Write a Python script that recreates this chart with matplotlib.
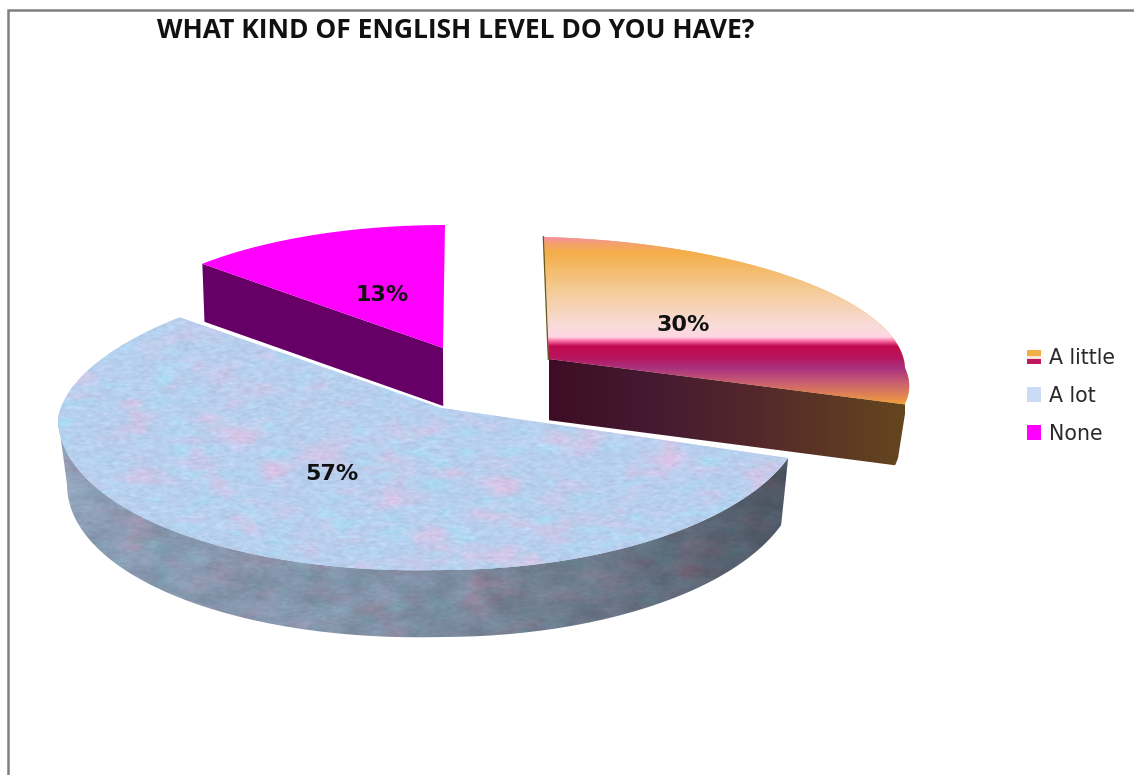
import numpy as np
import matplotlib
matplotlib.use('Agg')
import matplotlib.pyplot as plt
from matplotlib.colors import to_rgb
from matplotlib.legend_handler import HandlerPatch
from matplotlib.patches import Patch, Rectangle
from matplotlib.path import Path
from matplotlib.transforms import Affine2D, Transform

title = 'WHAT KIND OF ENGLISH LEVEL DO YOU HAVE?'
categories = ['A little', 'A lot', 'None']
values = [30, 57, 13]
legend_colors = ['#F4AE48', '#CBDBF5', '#FF00FF']


class SliceView(Transform):
    """Lays one flat pie slice onto the tilted plate, in figure pixels."""
    input_dims = 2
    output_dims = 2

    def __init__(self, apex, left, right, back, front, skew_back=0, skew_front=0, sag_left=0, sag_right=0):
        super().__init__()
        self.apex = apex
        self.left, self.right = left, right
        self.back, self.front = back, front
        self.skew_back, self.skew_front = skew_back, skew_front
        self.sag_left, self.sag_right = sag_left, sag_right

    def transform_non_affine(self, xy):
        xy = np.asarray(xy, dtype=float)
        x, y = xy[:, 0], xy[:, 1]
        wide = np.where(x < 0, self.left, self.right)
        tall = np.where(y > 0, self.back, self.front)
        skew = np.where(y > 0, self.skew_back, self.skew_front)
        # sag drops the far sides of the plate a little
        sag = np.where(x < 0, self.sag_left, self.sag_right) * np.abs(x)
        return np.column_stack([self.apex[0] + wide * x + skew * y,
                                self.apex[1] - tall * y + sag])

    def transform_path_non_affine(self, path):
        # flatten at a large scale, the curves are only one unit across
        flat = path.to_polygons(Affine2D().scale(2000))[0] / 2000
        return Path(self.transform_non_affine(flat))


def rim(t0, t1, n=120):
    t = np.radians(np.linspace(t0, t1, n))
    return np.column_stack([np.cos(t), np.sin(t)])


def lowered(pts, depth, squeeze=0.978, vanish=470):
    return np.column_stack([vanish + (pts[:, 0] - vanish) * squeeze, pts[:, 1] + depth])


def ramp(stops, n=400):
    pos = np.array([s[0] for s in stops], dtype=float)
    rgb = np.array([to_rgb(s[1]) for s in stops])
    t = np.linspace(pos[0], pos[-1], n)
    return np.column_stack([np.interp(t, pos, rgb[:, i]) for i in range(3)])


def mottled(h, w, fy, fx, seed):
    # low-passed noise, used only as surface grain
    noise = np.random.default_rng(seed).standard_normal((h, w))
    ky = np.fft.fftfreq(h)[:, None]
    kx = np.fft.rfftfreq(w)[None, :]
    soft = np.fft.irfft2(np.fft.rfft2(noise) * np.exp(-(ky / fy) ** 2 - (kx / fx) ** 2), s=(h, w))
    return (soft - soft.mean()) / soft.std()


def paint(ax, img, box, clip, zorder):
    x0, x1, y0, y1 = box
    im = ax.imshow(img, extent=(x0, x1, y1, y0), aspect='auto', zorder=zorder, interpolation='bilinear')
    if isinstance(clip, np.ndarray):
        im.set_clip_path(Path(clip), ax.transData)
    else:
        im.set_clip_path(clip)
    return im


def plate_texture(h, w):
    base = np.array(to_rgb('#B9CFEE'))
    pink = np.array(to_rgb('#D8C4E6'))
    cyan = np.array(to_rgb('#ADD9F2'))
    coarse = mottled(h, w, 0.035, 0.02, 3)
    mid = mottled(h, w, 0.09, 0.04, 4)
    fine = mottled(h, w, 0.3, 0.12, 5)
    tex = base + np.clip(coarse * 0.3 + mid * 0.14, 0, 1)[..., None] * (pink - base) \
        + np.clip(mottled(h, w, 0.07, 0.03, 6) * 0.4, 0, 1)[..., None] * (cyan - base)
    return np.clip(tex + fine[..., None] * 0.014, 0, 1)


views = [
    SliceView((549, 359), 356, 356, 122, 119, skew_back=-5, skew_front=-55, sag_right=9),
    SliceView((441, 408), 383, 365, 143, 162, skew_back=26, sag_left=10),
    SliceView((443, 348), 332, 332, 123, 123, skew_back=2),
]
depths = [61, 67, 58]

fig = plt.figure(figsize=(11.34, 7.75), dpi=100, facecolor='white')
ax = fig.add_axes([0, 0, 1, 1])

wedges, _, pcts = ax.pie(values, colors=legend_colors, startangle=90, counterclock=False,
                         autopct='%.0f%%', pctdistance=0.47,
                         wedgeprops={'linewidth': 0},
                         textprops={'fontsize': 16, 'fontweight': 'bold', 'color': '#111111'})
ax.set(xlim=(0, 1134), ylim=(775, 0), aspect='auto')
ax.set_axis_off()

for wedge, pct, view in zip(wedges, pcts, views):
    wedge.set_transform(view + ax.transData)
    pct.set_transform(view + ax.transData)
    pct.set_zorder(6)
    pct.set_clip_on(False)
little, lot, none = wedges
little_view, lot_view, none_view = views

# frame along the top and left only
ax.plot([8, 8, 1134], [775, 10, 10], color='#808080', lw=1.8, solid_joinstyle='miter', zorder=1)

# "A little": banded top, dark brown wall
outline = np.vstack([rim(-14, little.theta1), [[0, 0]]])
top = little_view.transform(outline)
wall = np.vstack([top, lowered(top, depths[0])[::-1]])
wall_band = ramp([(0, '#3E0D25'), (0.3, '#451A32'), (0.6, '#55292A'), (1, '#64461E')])[None, :, :]
paint(ax, wall_band, (549, 905, 340, 480), wall, 2)
edge = little_view.transform(np.array([[0, 1], [0, 0]]))
ax.plot(edge[:, 0] - 0.5, edge[:, 1], color='#6A5A20', lw=1.2, zorder=2)
band = ramp([(237, '#F78FA8'), (243, '#F4A070'), (252, '#F4AE48'), (290, '#F5CB96'),
             (325, '#F8DCD8'), (337, '#FFD6E4'), (340, '#FF86B6'), (346, '#C20A50'),
             (358, '#B8155F'), (368, '#A8327F'), (382, '#C85C72'), (405, '#F2A23C')])[:, None, :]
paint(ax, band, (530, 925, 237, 405), little, 3)

# "None": flat magenta with a plum wall
outline = np.vstack([rim(none.theta2, none.theta2, 2)[:1], [[0, 0]]])
top = none_view.transform(outline)
ax.fill(*np.vstack([top, lowered(top, depths[2], squeeze=0.992)[::-1]]).T, color='#660066', lw=0, zorder=2)
none.set_zorder(3)

# "A lot": mottled plate and shaded rim wall
top = lot_view.transform(rim(lot.theta2, -180))
wall = np.vstack([top, lowered(top, depths[1])[::-1]])
h, w = 340, 760
tex = plate_texture(h, w)
shade = np.interp(np.arange(w), [0, 100, 380, 550, 735], [0.78, 0.75, 0.68, 0.58, 0.42])
paint(ax, tex[::-1] * shade[None, :, None] * (1 + 0.03 * mottled(h, w, 0.05, 0.03, 8))[..., None],
      (50, 50 + w, 310, 310 + h), wall, 2)
paint(ax, tex, (50, 50 + w, 300, 300 + h), lot, 3)

# small nudges so the labels sit clear of the band edges
x, y = pcts[0].get_position()
pcts[0].set_position((x, y + 0.03))
x, y = pcts[1].get_position()
pcts[1].set_position((x - 0.045, y + 0.012))

ax.text(157, 31, title, family='Open Sans', fontweight='bold', fontsize=19,
        color='#111111', ha='left', va='center')


class BandedHandler(HandlerPatch):
    def create_artists(self, legend, orig_handle, xd, yd, width, height, fontsize, trans):
        rows = [(0.58, 0.42, '#F4AE48'), (0.36, 0.22, '#FBE6DC'), (0, 0.36, '#C0185E')]
        return [Rectangle((-xd, -yd + height * y0), width, height * dy, facecolor=c, lw=0, transform=trans)
                for y0, dy, c in rows]


handles = [Patch(facecolor=c, linewidth=0) for c in legend_colors]
ax.legend(handles, categories, loc='upper left', bbox_to_anchor=(1027, 348), bbox_transform=ax.transData,
          frameon=False, borderpad=0, borderaxespad=0, fontsize=14.8, labelspacing=0.87,
          handlelength=0.7, handleheight=0.7, handletextpad=0.35, labelcolor='#2A2A2A',
          handler_map={handles[0]: BandedHandler()})

fig.savefig('out.png', dpi=100, facecolor='white')
